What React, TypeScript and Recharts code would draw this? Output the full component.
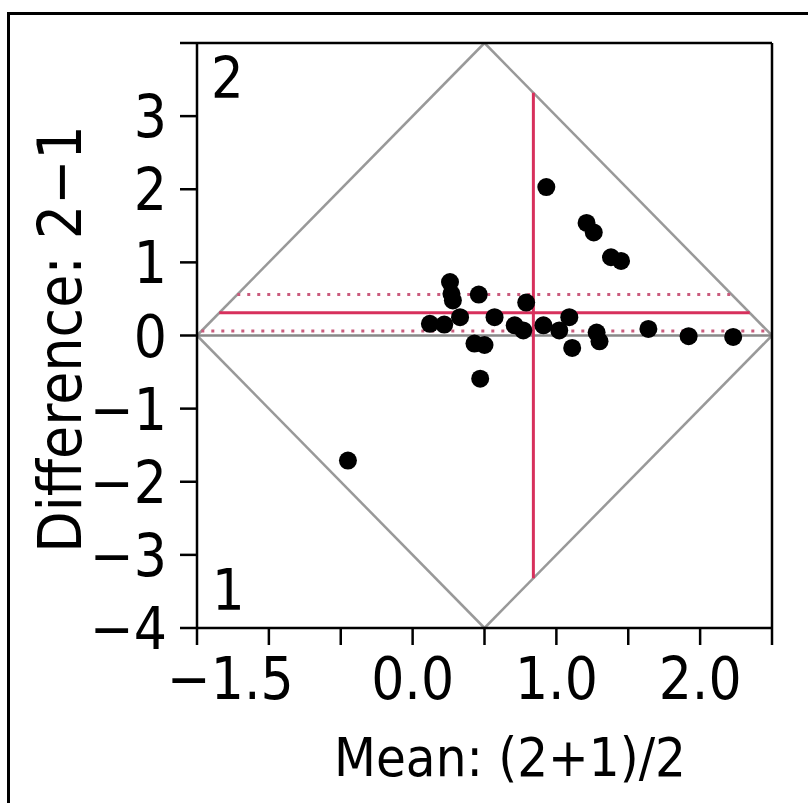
import { ScatterChart, Scatter, XAxis, YAxis, ReferenceLine } from 'recharts';

// paired observations: mean of the two readings and their difference (2 - 1)
const pairMeans = [
  -0.45, 0.12, 0.22, 0.26, 0.27, 0.28, 0.33, 0.43, 0.46, 0.47, 0.5, 0.57, 0.71, 0.77, 0.79,
  0.91, 0.93, 1.02, 1.09, 1.11, 1.21, 1.26, 1.28, 1.3, 1.38, 1.45, 1.64, 1.92, 2.23,
];
const pairDiffs = [
  -1.71, 0.16, 0.15, 0.73, 0.57, 0.48, 0.25, -0.11, 0.56, -0.59, -0.13, 0.25, 0.14, 0.07, 0.45,
  0.14, 2.03, 0.07, 0.25, -0.17, 1.54, 1.41, 0.04, -0.08, 1.07, 1.02, 0.09, -0.01, -0.02,
];

const xTicks = [-1.5, -1, -0.5, 0, 0.5, 1, 1.5, 2, 2.5];
const xTickLabels = [-1.5, 0, 1, 2];
const yTicks = [-4, -3, -2, -1, 0, 1, 2, 3, 4];
const yTickLabels = [-4, -3, -2, -1, 0, 1, 2, 3];

// summary statistics
const meanOfMeans = 0.84;
const meanDiff = 0.31;
const diffLower = 0.06;
const diffUpper = 0.56;

const X_MIN = -1.5;
const X_MAX = 2.5;
const Y_MAX = 4;
const CENTER_X = (X_MIN + X_MAX) / 2;

const data = pairMeans.map((m, i) => ({ mean: m, diff: pairDiffs[i] }));

const FONT = '"DejaVu Sans Condensed", "DejaVu Sans", sans-serif';
const RED = '#d7305c';
const DOT_RED = '#c95a7c';
const GREY = '#999999';
const TICK_FONT = 58;

const minus = (s: string) => s.replace('-', '\u2212');

// horizontal segment clipped to the diamond
const hSeg = (y: number) => {
  const half = (X_MAX - X_MIN) / 2 - Math.abs(y) / 2;
  return [
    { x: CENTER_X - half, y },
    { x: CENTER_X + half, y },
  ];
};

// vertical segment clipped to the diamond
const vSeg = (x: number) => {
  const h = Y_MAX - 2 * Math.abs(x - CENTER_X);
  return [
    { x, y: -h },
    { x, y: h },
  ];
};

const XTick = (props: any) => {
  const { x, y, payload } = props;
  if (!xTickLabels.includes(payload.value)) return null;
  // first label sits to the right of its tick so it stays inside the frame
  const first = payload.value === X_MIN;
  return (
    <text
      x={first ? x - 30 : x}
      y={y + 52}
      textAnchor={first ? 'start' : 'middle'}
      fontSize={TICK_FONT}
      fontFamily={FONT}
      fill="#000"
    >
      {minus(payload.value.toFixed(1))}
    </text>
  );
};

const YTick = (props: any) => {
  const { x, y, payload } = props;
  if (!yTickLabels.includes(payload.value)) return null;
  return (
    <text x={x - 11} y={y + 21} textAnchor="end" fontSize={TICK_FONT} fontFamily={FONT} fill="#000">
      {minus(String(payload.value))}
    </text>
  );
};

const Dot = (props: any) => <circle cx={props.cx} cy={props.cy} r={9} fill="#000" />;

export default function App() {
  return (
    <div style={{ position: 'absolute', left: 0, top: 0, width: 808, height: 803, background: '#fff' }}>
      <div
        style={{
          position: 'absolute',
          left: 7,
          top: 12,
          width: 808,
          height: 803,
          borderLeft: '3px solid #000',
          borderTop: '3px solid #000',
        }}
      />
      <div style={{ position: 'absolute', left: 0, top: 0 }}>
        <ScatterChart width={808} height={803} margin={{ top: 43, right: 36, left: 47, bottom: 75 }}>
          <XAxis
            type="number"
            dataKey="mean"
            domain={[X_MIN, X_MAX]}
            ticks={xTicks}
            interval={0}
            allowDataOverflow
            height={100}
            tickSize={17}
            axisLine={{ stroke: '#000', strokeWidth: 2.5 }}
            tickLine={{ stroke: '#000', strokeWidth: 2.5 }}
            tick={<XTick />}
          />
          <YAxis
            type="number"
            dataKey="diff"
            domain={[-Y_MAX, Y_MAX]}
            ticks={yTicks}
            interval={0}
            allowDataOverflow
            width={150}
            tickSize={17}
            axisLine={{ stroke: '#000', strokeWidth: 2.5 }}
            tickLine={{ stroke: '#000', strokeWidth: 2.5 }}
            tick={<YTick />}
          />
          <Scatter data={data} shape={<Dot />} isAnimationActive={false} />

          {/* diamond around the plot */}
          <ReferenceLine segment={[{ x: X_MIN, y: 0 }, { x: CENTER_X, y: Y_MAX }]} stroke={GREY} strokeWidth={2.5} />
          <ReferenceLine segment={[{ x: CENTER_X, y: Y_MAX }, { x: X_MAX, y: 0 }]} stroke={GREY} strokeWidth={2.5} />
          <ReferenceLine segment={[{ x: X_MAX, y: 0 }, { x: CENTER_X, y: -Y_MAX }]} stroke={GREY} strokeWidth={2.5} />
          <ReferenceLine segment={[{ x: CENTER_X, y: -Y_MAX }, { x: X_MIN, y: 0 }]} stroke={GREY} strokeWidth={2.5} />
          <ReferenceLine y={0} stroke="#888" strokeWidth={2.5} />

          {/* mean difference with its confidence limits */}
          <ReferenceLine segment={hSeg(diffUpper)} stroke={DOT_RED} strokeWidth={3} strokeDasharray="3 7" />
          <ReferenceLine segment={hSeg(diffLower)} stroke={DOT_RED} strokeWidth={3} strokeDasharray="3 7" />
          <ReferenceLine segment={hSeg(meanDiff)} stroke={RED} strokeWidth={3} />
          <ReferenceLine segment={vSeg(meanOfMeans)} stroke={RED} strokeWidth={3} />

          {/* frame */}
          <ReferenceLine y={Y_MAX} stroke="#000" strokeWidth={2.5} />
          <ReferenceLine x={X_MAX} stroke="#000" strokeWidth={2.5} />
        </ScatterChart>
      </div>
      <svg width={808} height={803} style={{ position: 'absolute', left: 0, top: 0, pointerEvents: 'none' }}>
        <text x={211} y={98} fontSize={57} fontFamily={FONT} fill="#000">
          2
        </text>
        <text x={212} y={610} fontSize={57} fontFamily={FONT} fill="#000">
          1
        </text>
        <text x={510} y={776} textAnchor="middle" fontSize={54} fontFamily={FONT} fill="#000">
          Mean: (2+1)/2
        </text>
        <text
          x={81}
          y={339}
          transform="rotate(-90 81 339)"
          textAnchor="middle"
          fontSize={60}
          fontFamily={FONT}
          fill="#000"
        >
          Difference:  2{'\u2212'}1
        </text>
      </svg>
    </div>
  );
}
